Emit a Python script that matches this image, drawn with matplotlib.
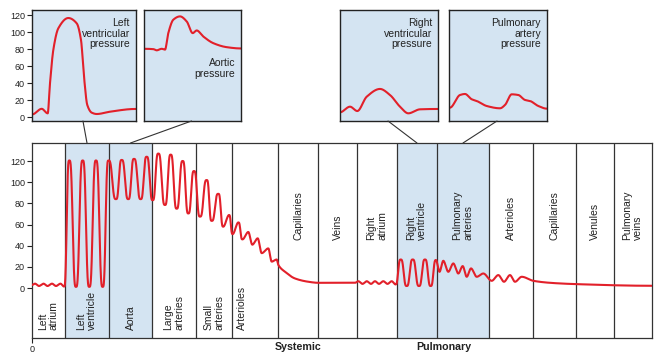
import numpy as np
import matplotlib
matplotlib.use("Agg")
import matplotlib.pyplot as plt
from matplotlib.patches import ConnectionPatch

plt.rcParams['font.family'] = ['Liberation Sans', 'DejaVu Sans']

# ---- data (pressure in mmHg, position in arbitrary units along the circuit) ----
column_names = ["Left\natrium", "Left\nventricle", "Aorta", "Large\narteries", "Small\narteries",
                "Arterioles", "Capillaries", "Veins", "Right\natrium", "Right\nventricle",
                "Pulmonary\narteries", "Arterioles", "Capillaries", "Venules", "Pulmonary\nveins"]
column_edges = [0, 33, 77, 120, 164, 200, 246, 286, 325, 365, 405, 457, 501, 544, 582, 620]
shaded_columns = [1, 2, 9, 10]

# peaks / troughs of the pressure trace
trace_pos = [0, 3, 7, 11.5, 15.5, 20, 24, 28.5, 32, 37.3, 44, 50.7, 57.3, 64, 70.7, 76.5,
             84, 89.7, 96.3, 102, 108.7, 114.7, 120.7, 126.3, 133, 138.7, 144.7, 150.7,
             156.3, 162, 168, 174.7, 179.7, 186.3, 191.3, 197, 200.7, 206.3, 210.5, 216.3,
             220.3, 225.7, 229.7, 236.3, 239.7, 244.7, 246.3, 253, 263, 276.3, 286.3, 320,
             323, 326.3, 330.5, 334.7, 339, 343, 347, 351.3, 355.5, 359.7, 363.5, 368.7,
             374.7, 380.7, 387, 393, 398.7, 404, 407.5, 411.3, 416.3, 421.3, 426.3, 430.7,
             434.7, 439, 444.7, 451.3, 459.7, 466.3, 472, 478, 483, 489.7, 501.3, 518, 543, 620]
trace_mmhg = [3, 4.2, 2, 4.2, 2, 4.2, 2, 4.2, 1.5, 120.5, 1.2, 120.5, 1.2, 120.5, 1.2, 120.5,
              84, 121, 84, 122, 84, 124, 83, 127, 78.5, 126, 75, 120,
              70.5, 110.5, 67.5, 102, 63.5, 89, 58, 69, 51, 62, 46, 53,
              41, 47, 33, 37.5, 25, 27, 22, 15.4, 9.1, 6, 5, 5,
              5, 6.5, 4, 6.5, 4, 6.5, 4, 6.5, 4, 6.5, 3.5, 27,
              2, 27, 2, 27, 2, 26.5, 15.4, 25.8, 15.4, 23.3, 13.8, 20.8,
              10.7, 18.6, 10.7, 13.8, 6.9, 12.3, 6, 12.3, 6, 10.7, 6.9, 5, 3.8, 2.2]

# single-beat insets
lv_t = [0.3, 9.7, 15.7, 18, 21.3, 26.3, 36.3, 44.7, 49, 52, 55.3, 59.7, 64.7, 78, 103]
lv_p = [3.5, 10, 4.7, 40, 79, 104.4, 116.5, 110.3, 90.7, 47.6, 14.4, 5.5, 3.9, 6.6, 9.8]
ao_t = [0, 9.3, 12.7, 17.7, 21, 24.3, 29.3, 36, 42.7, 48.7, 52.7, 59.3, 69.3, 82.7, 96.7]
ao_p = [80.4, 80, 78.6, 80.4, 79.4, 98.8, 114.5, 118.4, 112.5, 98.8, 101.9, 94.8, 87, 82.3, 80.8]
rv_t = [0, 10, 17.3, 26.7, 40, 50, 60, 68.3, 80, 97.3]
rv_p = [5.9, 12.5, 7.4, 24.2, 33.3, 26.2, 12.5, 4.7, 9.4, 9.8]
pa_t = [1, 11, 16, 22.7, 27.7, 37.7, 51, 56, 62.7, 69.3, 76, 81, 89.3, 97.7]
pa_p = [11.4, 26.2, 27.4, 21.2, 19.2, 13.3, 10.6, 14.5, 27, 26.2, 20.4, 19.2, 13.3, 10.2]

inset_titles = ["Left\nventricular\npressure", "Aortic\npressure",
                "Right\nventricular\npressure", "Pulmonary\nartery\npressure"]
inset_targets = [1, 2, 9, 10]
y_ticks = [0, 20, 40, 60, 80, 100, 120]

RED = "#e2202a"
BLUE = "#d4e4f2"
W, H = 666, 361


def smooth(x, y, n=3000, square=False):
    # monotone cubic (pchip) through the read-off knots
    x = np.asarray(x, float)
    y = np.asarray(y, float)
    h = np.diff(x)
    d = np.diff(y) / h
    m = np.zeros_like(y)
    for k in range(1, len(x) - 1):
        if d[k - 1] * d[k] > 0:
            w1 = 2 * h[k] + h[k - 1]
            w2 = h[k] + 2 * h[k - 1]
            m[k] = (w1 + w2) / (w1 / d[k - 1] + w2 / d[k])
    xs = np.linspace(x[0], x[-1], n)
    i = np.clip(np.searchsorted(x, xs) - 1, 0, len(h) - 1)
    t = (xs - x[i]) / h[i]
    if square:
        # big peak-to-trough swings drawn squarer, like the pen trace
        big = (m[i] == 0) & (m[i + 1] == 0) & (np.abs(y[i + 1] - y[i]) > 15)
        s = t * t * (3 - 2 * t)
        t = np.where(big, s, t)
    ys = ((2 * t**3 - 3 * t**2 + 1) * y[i] + (t**3 - 2 * t**2 + t) * h[i] * m[i]
          + (-2 * t**3 + 3 * t**2) * y[i + 1] + (t**3 - t**2) * h[i] * m[i + 1])
    return xs, ys


def rect(l, t, r, b):
    return [l / W, 1 - b / H, (r - l) / W, (b - t) / H]


fig = plt.figure(figsize=(W / 100, H / 100), dpi=100)

# ---- main panel ----
ax = fig.add_axes(rect(32, 143, 652, 338))
for i in shaded_columns:
    ax.axvspan(column_edges[i], column_edges[i + 1], color=BLUE, lw=0, zorder=0)
for e in column_edges[1:-1]:
    ax.axvline(e, color="#333333", lw=0.9, zorder=1)

xs, ys = smooth(trace_pos, trace_mmhg, 8000, square=True)
ax.plot(xs, ys, color=RED, lw=1.5, zorder=3)

for i, name in enumerate(column_names):
    cx = (column_edges[i] + column_edges[i + 1]) / 2
    if i == 5:
        cx -= 13  # systemic arterioles label sits left of centre
    yb = -39.6 if i < 6 else 45.2
    ax.text(cx, yb, name, rotation=90, ha="center", va="bottom", multialignment="left",
            fontsize=7.5, linespacing=1.1, color="#222222", zorder=4)

ax.set_xlim(column_edges[0], column_edges[-1])
ax.set_ylim(-47.1, 137.0)
ax.set_yticks(y_ticks)
ax.set_xticks([0])
ax.set_xticklabels(["0"])
ax.tick_params(labelsize=6.5, length=3.5, width=0.8, pad=1.5, colors="#222222")
for s in ax.spines.values():
    s.set_color("#333333")
    s.set_linewidth(0.9)

ax.text(266, -56, "Systemic", ha="center", va="center", fontsize=7.7,
        fontweight="bold", color="#222222", clip_on=False)
ax.text(412, -56, "Pulmonary", ha="center", va="center", fontsize=7.7,
        fontweight="bold", color="#222222", clip_on=False)

# ---- inset panels ----
panels = [(32, 136), (144, 241), (340, 438), (449, 547)]
curves = [(lv_t, lv_p), (ao_t, ao_p), (rv_t, rv_p), (pa_t, pa_p)]
for k, ((l, r), (t, p), title, tgt) in enumerate(zip(panels, curves, inset_titles, inset_targets)):
    ia = fig.add_axes(rect(l, 10, r, 121))
    ia.set_facecolor(BLUE)
    cx_, cy_ = smooth(t, p, 800)
    ia.plot(cx_, cy_, color=RED, lw=1.5)
    ia.set_xlim(0, r - l)
    ia.set_ylim(-4.3, 125.9)
    ia.set_xticks([])
    if k == 0:
        ia.set_yticks(y_ticks)
        ia.tick_params(labelsize=6.5, length=3.5, width=0.8, pad=1.5, colors="#222222")
    else:
        ia.set_yticks([])
    for s in ia.spines.values():
        s.set_color("#222222")
        s.set_linewidth(1.0)
    ty = 0.93 if k != 1 else 0.57
    ia.text(0.94, ty, title, transform=ia.transAxes, ha="right", va="top",
            fontsize=7.5, linespacing=1.1, color="#222222")
    tx = (column_edges[tgt] + column_edges[tgt + 1]) / 2
    con = ConnectionPatch(xyA=(0.49, 0), coordsA=ia.transAxes,
                          xyB=(tx, 1), coordsB=ax.get_xaxis_transform(),
                          color="#333333", lw=0.8)
    fig.add_artist(con)

fig.savefig("out.png", dpi=100)
